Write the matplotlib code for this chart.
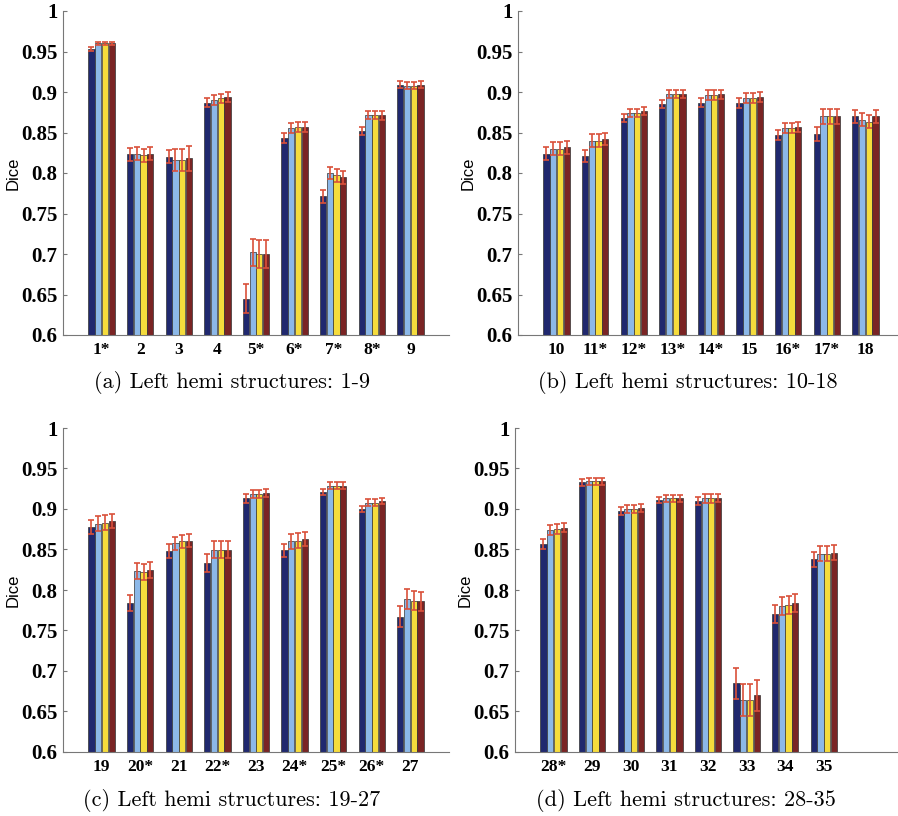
import numpy as np
import matplotlib
matplotlib.use("Agg")
import matplotlib.pyplot as plt

# structures per panel
labels_a = ['1*', '2', '3', '4', '5*', '6*', '7*', '8*', '9']
labels_b = ['10', '11*', '12*', '13*', '14*', '15', '16*', '17*', '18']
labels_c = ['19', '20*', '21', '22*', '23', '24*', '25*', '26*', '27']
labels_d = ['28*', '29', '30', '31', '32', '33', '34', '35']

# mean dice, one row per structure, 4 methods
dice_a = [[0.953, 0.960, 0.960, 0.960],
          [0.823, 0.824, 0.822, 0.824],
          [0.820, 0.816, 0.816, 0.818],
          [0.887, 0.890, 0.892, 0.894],
          [0.645, 0.702, 0.700, 0.700],
          [0.843, 0.856, 0.857, 0.857],
          [0.771, 0.800, 0.797, 0.795],
          [0.852, 0.872, 0.872, 0.871],
          [0.909, 0.908, 0.908, 0.909]]
err_a = [[0.002, 0.002, 0.002, 0.002],
         [0.008, 0.008, 0.008, 0.008],
         [0.008, 0.014, 0.014, 0.015],
         [0.005, 0.006, 0.006, 0.006],
         [0.018, 0.017, 0.017, 0.017],
         [0.006, 0.006, 0.006, 0.006],
         [0.008, 0.008, 0.008, 0.008],
         [0.005, 0.005, 0.005, 0.005],
         [0.004, 0.004, 0.004, 0.004]]

dice_b = [[0.824, 0.830, 0.830, 0.832],
          [0.821, 0.840, 0.840, 0.842],
          [0.868, 0.874, 0.874, 0.876],
          [0.885, 0.897, 0.897, 0.898],
          [0.887, 0.896, 0.896, 0.897],
          [0.886, 0.893, 0.893, 0.894],
          [0.847, 0.856, 0.856, 0.857],
          [0.848, 0.870, 0.870, 0.870],
          [0.870, 0.866, 0.863, 0.870]]
err_b = [[0.008, 0.008, 0.008, 0.008],
         [0.008, 0.008, 0.008, 0.008],
         [0.005, 0.005, 0.005, 0.005],
         [0.005, 0.005, 0.005, 0.005],
         [0.006, 0.006, 0.006, 0.006],
         [0.006, 0.006, 0.006, 0.006],
         [0.006, 0.006, 0.006, 0.006],
         [0.009, 0.009, 0.009, 0.009],
         [0.008, 0.008, 0.008, 0.008]]

dice_c = [[0.878, 0.882, 0.883, 0.885],
          [0.784, 0.823, 0.822, 0.825],
          [0.848, 0.858, 0.860, 0.861],
          [0.833, 0.850, 0.850, 0.850],
          [0.913, 0.919, 0.919, 0.920],
          [0.849, 0.860, 0.861, 0.863],
          [0.921, 0.929, 0.929, 0.929],
          [0.900, 0.908, 0.908, 0.910],
          [0.767, 0.789, 0.787, 0.786]]
err_c = [[0.009, 0.009, 0.009, 0.009],
         [0.010, 0.010, 0.010, 0.010],
         [0.009, 0.008, 0.008, 0.008],
         [0.011, 0.011, 0.011, 0.011],
         [0.006, 0.005, 0.005, 0.005],
         [0.008, 0.009, 0.009, 0.009],
         [0.004, 0.004, 0.004, 0.004],
         [0.004, 0.004, 0.004, 0.004],
         [0.013, 0.012, 0.012, 0.012]]

dice_d = [[0.857, 0.874, 0.875, 0.877],
          [0.933, 0.934, 0.934, 0.934],
          [0.898, 0.900, 0.900, 0.901],
          [0.911, 0.913, 0.913, 0.913],
          [0.910, 0.913, 0.913, 0.914],
          [0.685, 0.664, 0.664, 0.670],
          [0.770, 0.780, 0.781, 0.784],
          [0.838, 0.845, 0.845, 0.846]]
err_d = [[0.006, 0.006, 0.006, 0.006],
         [0.004, 0.004, 0.004, 0.004],
         [0.005, 0.005, 0.005, 0.005],
         [0.004, 0.004, 0.004, 0.004],
         [0.005, 0.005, 0.005, 0.005],
         [0.019, 0.020, 0.020, 0.019],
         [0.011, 0.011, 0.011, 0.011],
         [0.009, 0.009, 0.009, 0.009]]

captions = ['(a) Left hemi structures: 1-9',
            '(b) Left hemi structures: 10-18',
            '(c) Left hemi structures: 19-27',
            '(d) Left hemi structures: 28-35']

colors = ['#20286e', '#8cb8e8', '#f5dc3c', '#7a2424']
err_color = '#d9503a'

fig = plt.figure(figsize=(8.98, 8.16), dpi=100)

W = 386 / 898
H = 324 / 816
positions = [(63 / 898, 1 - 335 / 816),
             (518 / 898, 1 - 335 / 816),
             (63 / 898, 1 - 752 / 816),
             (515 / 898, 1 - 752 / 816)]
cap_pos = [(0.258, 1 - 383 / 816), (0.766, 1 - 383 / 816),
           (0.258, 1 - 801 / 816), (0.764, 1 - 801 / 816)]

panels = [(labels_a, dice_a, err_a), (labels_b, dice_b, err_b),
          (labels_c, dice_c, err_c), (labels_d, dice_d, err_d)]

offsets = [-0.2625, -0.0875, 0.0875, 0.2625]

for i, (labels, dice, err) in enumerate(panels):
    ax = fig.add_axes([positions[i][0], positions[i][1], W, H])
    dice = np.array(dice)
    err = np.array(err)
    x = np.arange(1, len(labels) + 1)
    for k in range(4):
        ax.bar(x + offsets[k], dice[:, k] - 0.6, bottom=0.6, width=0.16,
               color=colors[k], edgecolor='#333333', linewidth=0.5, zorder=2)
        ax.errorbar(x + offsets[k], dice[:, k], yerr=err[:, k], fmt='none',
                    ecolor=err_color, elinewidth=1.2, capsize=2.5,
                    capthick=1.2, zorder=3)
    ax.set_xlim(0, 10)
    ax.set_ylim(0.6, 1.0)
    ax.set_yticks(np.arange(0.6, 1.001, 0.05))
    ax.set_yticklabels(['0.6', '0.65', '0.7', '0.75', '0.8', '0.85',
                        '0.9', '0.95', '1'])
    ax.set_xticks(x)
    ax.set_xticklabels(labels)
    for t in ax.get_xticklabels():
        t.set_fontfamily('Liberation Serif')
        t.set_fontweight('bold')
        t.set_fontsize(12.5)
    for t in ax.get_yticklabels():
        t.set_fontfamily('Liberation Serif')
        t.set_fontweight('bold')
        t.set_fontsize(15)
    ax.tick_params(axis='x', length=0, pad=5)
    ax.tick_params(axis='y', direction='in', length=3, color='#777777', pad=4)
    ax.spines['top'].set_visible(False)
    ax.spines['right'].set_visible(False)
    ax.spines['left'].set_color('#777777')
    ax.spines['bottom'].set_color('#777777')
    ax.set_ylabel('Dice', fontsize=12, fontfamily='Liberation Sans')
    ax.yaxis.set_label_coords(-0.11, 0.5)
    fig.text(cap_pos[i][0], cap_pos[i][1], captions[i], ha='center',
             va='center', fontsize=16, fontfamily='cmr10')

fig.savefig('out.png', dpi=100)
